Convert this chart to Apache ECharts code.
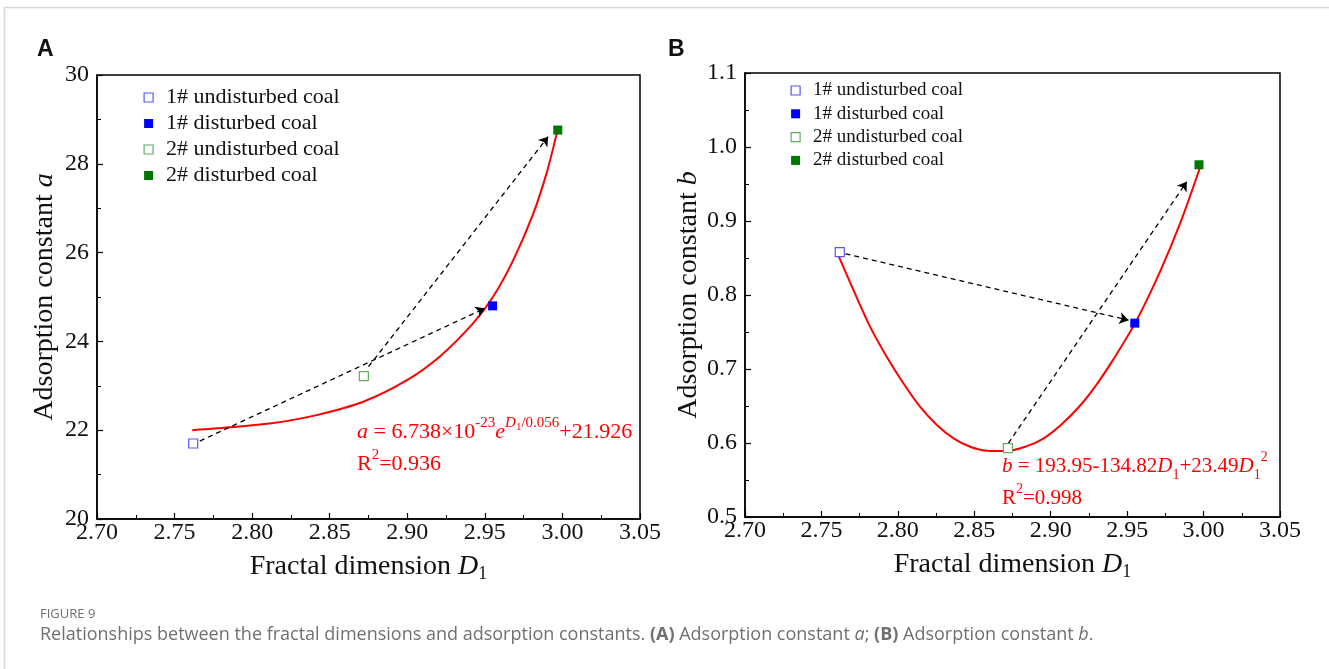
<!DOCTYPE html>
<html><head><meta charset="utf-8">
<script src="https://cdn.jsdelivr.net/npm/echarts@6/dist/echarts.min.js"></script>
<style>html,body{margin:0;padding:0;background:#fff;}#c{width:1329px;height:669px;}</style>
</head><body><div id="c"></div>
<script>
// ---- data ----
const sampleNames = ['1# undisturbed coal', '1# disturbed coal', '2# undisturbed coal', '2# disturbed coal'];
const fractalD1 = [2.762, 2.955, 2.872, 2.997];
const constantA = [21.70, 24.80, 23.22, 28.76];
const constantB = [0.858, 0.762, 0.593, 0.976];

const fitA_D1 = [2.7614, 2.788, 2.8136, 2.8415, 2.8716, 2.8995, 2.921, 2.9425, 2.9554, 2.9683, 2.9812, 2.9898, 2.9966];
const fitA_val = [22.00, 22.07, 22.16, 22.34, 22.64, 23.12, 23.66, 24.41, 25.01, 25.83, 26.88, 27.79, 28.72];

const fitB_D1 = [2.760, 2.7709, 2.7818, 2.7927, 2.8036, 2.8145, 2.8255, 2.8364, 2.8473, 2.8582, 2.8713,
                 2.884, 2.8952, 2.907, 2.919, 2.930, 2.941, 2.956, 2.9716, 2.9847, 2.9978];
const fitB_val = [0.8585, 0.8068, 0.7572, 0.7166, 0.6807, 0.649, 0.6243, 0.6063, 0.595, 0.5896, 0.5892,
                  0.5955, 0.606, 0.625, 0.650, 0.679, 0.713, 0.765, 0.832, 0.897, 0.973];

// arrows: [start, end] in data coordinates
const arrowsA = [[[2.761, 21.67], [2.950, 24.745]], [[2.875, 23.43], [2.9908, 28.61]]];
const arrowsB = [[[2.760, 0.8585], [2.9509, 0.766]], [[2.8723, 0.5996], [2.989, 0.953]]];

const xTicks = [2.70, 2.75, 2.80, 2.85, 2.90, 2.95, 3.00, 3.05];
const yTicksA = [20, 22, 24, 26, 28, 30];
const yTicksB = [0.5, 0.6, 0.7, 0.8, 0.9, 1.0, 1.1];

// ---- styles ----
const serif = 'Liberation Serif';
const colors = ['#5555ff', '#0000ff', '#66aa66', '#007700'];
const hollow = [true, false, true, false];

function itemStyleFor(i) {
  return hollow[i]
    ? { color: '#ffffff', borderColor: colors[i], borderWidth: 1.2, opacity: 1 }
    : { color: colors[i], borderColor: colors[i], borderWidth: 0, opacity: 1 };
}

function xAxisDef(gridIndex) {
  return {
    gridIndex, type: 'value', min: xTicks[0], max: xTicks[xTicks.length - 1], interval: 0.05,
    name: 'Fractal dimension {i|D}{s|1}', nameLocation: 'middle', nameGap: 32,
    nameTextStyle: { fontFamily: serif, fontSize: 28, color: '#111',
      rich: { i: { fontFamily: serif, fontSize: 28, fontStyle: 'italic', color: '#111' },
              s: { fontFamily: serif, fontSize: 18, color: '#111', verticalAlign: 'bottom', padding: [14, 0, 0, 0] } } },
    axisLine: { show: true, onZero: false, lineStyle: { color: '#000', width: 1.5 } },
    axisTick: { show: true, inside: true, length: 6, lineStyle: { color: '#000', width: 1.2 } },
    minorTick: { show: true, splitNumber: 2, length: 4, lineStyle: { color: '#000', width: 1 } },
    axisLabel: { fontFamily: serif, fontSize: 24, color: '#111', margin: 2, formatter: v => v.toFixed(2) },
    splitLine: { show: false }
  };
}

function yAxisDef(gridIndex, ticks, digits, label, gap) {
  return {
    gridIndex, type: 'value', min: ticks[0], max: ticks[ticks.length - 1],
    interval: +(ticks[1] - ticks[0]).toFixed(3),
    name: label, nameLocation: 'middle', nameGap: gap, nameRotate: 90,
    nameTextStyle: { fontFamily: serif, fontSize: 28, color: '#111',
      rich: { i: { fontFamily: serif, fontSize: 28, fontStyle: 'italic', color: '#111' } } },
    axisLine: { show: true, onZero: false, lineStyle: { color: '#000', width: 1.5 } },
    axisTick: { show: true, inside: true, length: 6, lineStyle: { color: '#000', width: 1.2 } },
    minorTick: { show: true, splitNumber: 2, length: 4, lineStyle: { color: '#000', width: 1 } },
    axisLabel: { fontFamily: serif, fontSize: 24, color: '#111', margin: 8, formatter: v => v.toFixed(digits) },
    splitLine: { show: false }
  };
}

const series = [];
[[constantA, 0], [constantB, 1]].forEach(([vals, g]) => {
  sampleNames.forEach((nm, i) => {
    series.push({
      type: 'scatter', name: nm, xAxisIndex: g, yAxisIndex: g, symbol: 'rect', symbolSize: 9,
      itemStyle: itemStyleFor(i), z: 5,
      data: [[fractalD1[i], vals[i]]]
    });
  });
});
series.push({
  type: 'line', name: 'fitA', xAxisIndex: 0, yAxisIndex: 0, smooth: 0.3, showSymbol: false, symbol: 'none',
  lineStyle: { color: '#ff0000', width: 2 }, z: 3,
  data: fitA_D1.map((d, i) => [d, fitA_val[i]])
});
series.push({
  type: 'line', name: 'fitB', xAxisIndex: 1, yAxisIndex: 1, smooth: 0.3, showSymbol: false, symbol: 'none',
  lineStyle: { color: '#ff0000', width: 2 }, z: 3,
  data: fitB_D1.map((d, i) => [d, fitB_val[i]])
});
[[arrowsA, 0], [arrowsB, 1]].forEach(([arr, g]) => {
  series.push({
    type: 'lines', coordinateSystem: 'cartesian2d', xAxisIndex: g, yAxisIndex: g, z: 4,
    symbol: ['none', 'arrow'], symbolSize: 9,
    lineStyle: { color: '#000', width: 1.3, type: [5, 4], opacity: 1 },
    data: arr.map(a => ({ coords: a }))
  });
});

function legendDef(left, top, gap, fs, lh) {
  return {
    orient: 'vertical', left, top, itemGap: gap, itemWidth: 9, itemHeight: 9, icon: 'rect',
    selectedMode: false,
    textStyle: { fontFamily: serif, fontSize: fs, lineHeight: lh, color: '#111', padding: [0, 0, 0, 8] },
    data: sampleNames.map((nm, i) => ({ name: nm, icon: 'rect', itemStyle: itemStyleFor(i) }))
  };
}

const red = '#ff0000';
function eqRich(fs) {
  const s = Math.round(fs * 0.66);
  return {
    r: { fontFamily: serif, fontSize: fs, fill: red, lineHeight: 32 },
    i: { fontFamily: serif, fontSize: fs, fontStyle: 'italic', fill: red, lineHeight: 32 },
    sup: { fontFamily: serif, fontSize: s, fill: red, verticalAlign: 'top', lineHeight: 22 },
    supi: { fontFamily: serif, fontSize: s, fontStyle: 'italic', fill: red, verticalAlign: 'top', lineHeight: 22 },
    supsub: { fontFamily: serif, fontSize: 11, fill: red, verticalAlign: 'top', lineHeight: 22, padding: [6, 0, 0, 0] },
    sub: { fontFamily: serif, fontSize: s, fill: red, verticalAlign: 'bottom', lineHeight: 18, padding: [4, 0, 0, 0] }
  };
}

const capFont = 'Open Sans';
const capColor = '#707070';
const option = {
  backgroundColor: '#fff',
  animation: false,
  grid: [
    { left: 97, top: 75, width: 543, height: 444, show: true, borderColor: '#000', borderWidth: 1.5, backgroundColor: 'transparent' },
    { left: 745, top: 73, width: 535, height: 444, show: true, borderColor: '#000', borderWidth: 1.5, backgroundColor: 'transparent' }
  ],
  xAxis: [xAxisDef(0), xAxisDef(1)],
  yAxis: [yAxisDef(0, yTicksA, 0, 'Adsorption constant {i|a}', 38), yAxisDef(1, yTicksB, 1, 'Adsorption constant {i|b}', 40)],
  legend: [legendDef(138.5, 81.5, 4, 22, 21), legendDef(785.5, 76, 4.3, 19, 19)],
  series,
  graphic: [
    { type: 'line', shape: { x1: 5, y1: 7.5, x2: 1329, y2: 7.5 }, style: { stroke: '#d8d8d8', lineWidth: 1.5 } },
    { type: 'line', shape: { x1: 4.5, y1: 7, x2: 4.5, y2: 669 }, style: { stroke: '#d8d8d8', lineWidth: 1.5 } },
    { type: 'text', left: 37, top: 38, style: { text: 'A', fontFamily: 'Liberation Sans', fontWeight: 'bold', fontSize: 23, fill: '#111' } },
    { type: 'text', left: 668, top: 38, style: { text: 'B', fontFamily: 'Liberation Sans', fontWeight: 'bold', fontSize: 23, fill: '#111' } },
    { type: 'text', left: 357, top: 416, style: {
        text: '{i|a}{r| = 6.738×10}{sup|-23}{i|e}{supi|D}{supsub|1}{sup|/0.056}{r|+21.926}\n{r|R}{sup|2}{r|=0.936}',
        fill: red, rich: eqRich(22) } },
    { type: 'text', left: 1002, top: 450, style: {
        text: '{i|b}{r| = 193.95-134.82}{i|D}{sub|1}{r|+23.49}{i|D}{sub|1}{sup|2}\n{r|R}{sup|2}{r|=0.998}',
        fill: red, rich: eqRich(21) } },
    { type: 'text', left: 40, top: 608, style: { text: 'FIGURE 9', fontFamily: capFont, fontSize: 13, fill: capColor } },
    { type: 'text', left: 40, top: 626, style: {
        text: '{n|Relationships between the fractal dimensions and adsorption constants. }{b|(A)}{n| Adsorption constant }{i|a}{n|; }{b|(B)}{n| Adsorption constant }{i|b}{n|.}',
        fill: capColor,
        rich: {
          n: { fontFamily: capFont, fontSize: 18, fill: capColor },
          b: { fontFamily: capFont, fontSize: 18, fontWeight: 'bold', fill: capColor },
          i: { fontFamily: capFont, fontSize: 18, fontStyle: 'italic', fill: capColor }
        } } }
  ]
};
const chart = echarts.init(document.getElementById('c'), null, { renderer: 'canvas' });
chart.setOption(option);
</script>
</body></html>
